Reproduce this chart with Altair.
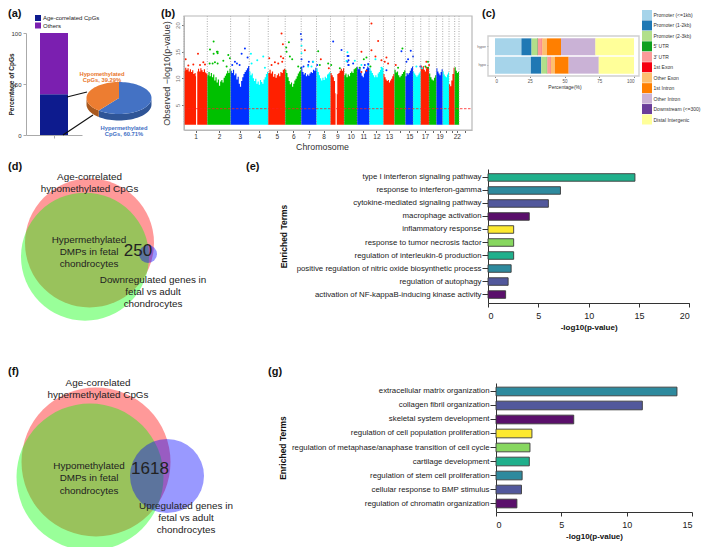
import math
import altair as alt

FONT = "Liberation Sans"
M = 8  # page margin: reference pixel -> chart pixel

# ---------- (a) stacked bar and pie ----------
a_cats = ["Age-correlated CpGs", "Others"]
a_vals = [40, 60]
a_cols = ["#0d1b8e", "#7b1fb0"]
pie_hypo, pie_hyper = 39.29, 60.71

# ---------- (b) Manhattan ----------
chr_edges = [0, 70, 140, 196, 253, 304, 352, 398, 440, 481, 520, 557, 599, 632, 665, 688, 711, 736, 758, 777, 796, 813, 826]
chr_labels = ["1", "2", "3", "4", "5", "6", "7", "8", "9", "10", "11", "12", "13", "", "15", "", "17", "", "19", "", "", "22"]
chr_tops = [
    [11.4, 12.0, 11.6, 11.9, 11.3, 11.7, 11.2, 11.5, 10.8, 11.0, 10.4, 11.3, 11.8, 11.3, 11.9, 11.5, 11.2, 11.7, 11.1, 10.9],
    [10.6, 11.2, 10.4, 11.0, 10.2, 10.7, 9.6, 10.2, 9.2, 9.8, 8.6, 9.4, 9.7, 9.2, 10.1, 10.5, 10.9, 11.4, 11.0, 11.8],
    [11.4, 11.0, 11.6, 10.6, 10.9, 9.8, 10.3, 9.0, 8.4, 9.5, 10.2, 10.8, 11.2, 11.5, 11.9, 12.3],
    [11.3, 10.6, 10.9, 10.0, 9.5, 9.9, 9.0, 9.4, 8.8, 9.7, 9.3, 9.0, 9.8, 10.2, 10.8, 11.2],
    [11.0, 11.6, 10.9, 11.3, 10.3, 10.8, 10.1, 10.6, 10.9, 10.4, 11.2, 11.0, 11.6, 11.8],
    [11.6, 11.0, 10.2, 9.5, 8.9, 9.2, 8.4, 9.0, 9.6, 9.9, 10.4, 10.9, 11.3, 11.5],
    [11.8, 11.2, 10.7, 11.0, 10.4, 10.7, 10.5, 10.9, 11.2, 11.0, 11.6, 11.4, 12.0],
    [11.9, 11.2, 10.6, 10.0, 9.6, 10.1, 9.7, 10.3, 10.0, 10.7, 10.9, 11.2],
    [11.0, 10.6, 10.2, 9.5, 7.2, 7.0, 10.8, 11.0, 11.4, 11.8, 11.4, 11.9],
    [10.6, 10.9, 10.2, 10.7, 10.4, 11.0, 11.3, 11.0, 11.7, 11.9, 12.1],
    [12.1, 11.7, 11.9, 11.0, 10.5, 10.2, 10.9, 11.4, 11.8, 12.2, 12.0],
    [11.9, 11.4, 11.0, 10.6, 10.2, 10.6, 10.2, 10.9, 11.2, 11.6, 11.9, 12.0],
    [10.8, 10.2, 9.8, 9.5, 9.7, 9.2, 9.6, 9.9, 10.4, 10.8],
    [11.6, 11.1, 11.3, 10.6, 10.2, 10.5, 10.8, 11.2, 11.5],
    [10.4, 11.0, 10.7, 11.0, 11.4, 11.9, 12.2],
    [11.3, 10.9, 10.6, 10.3, 10.6, 10.9, 11.2],
    [12.4, 12.0, 12.3, 11.6, 11.3, 11.8, 12.1, 12.0],
    [10.9, 10.2, 9.8, 9.6, 10.1, 10.6],
    [11.9, 11.3, 10.9, 10.6, 11.2, 11.7],
    [11.3, 10.7, 10.4, 10.2, 10.7, 11.1],
    [8.9, 8.5, 9.6, 10.8, 12.0],
    [12.1, 11.4, 11.0, 11.2],
]
chr_cols = ["#ff2000", "#00c000", "#0030ff", "#00ffff"]
gap_positions = [38, 457]
peak_pos = [5, 42, 13, 28, 48, 58, 63, 78, 89, 99, 101, 89, 101, 133, 138, 118, 86, 77, 101, 93, 128, 183, 173, 191, 159, 193, 153, 167, 145,
            201, 238, 220, 203, 243, 256, 293, 297, 291, 273, 283, 295, 263, 298, 315, 307, 308, 325, 318, 343, 351, 353, 351, 353, 387, 373, 375,
            400, 359, 353, 353, 353, 388, 373, 383, 363, 411, 435, 403, 433, 408, 442, 468, 448, 473, 494, 491, 494, 491, 508, 494, 494,
            491, 488, 513, 554, 533, 533, 548, 533, 540, 548, 560, 528, 543, 553, 540, 608, 575, 593, 563, 583,
            563, 575, 593, 608, 603, 613, 636, 656, 643, 653, 681, 688, 673, 668, 710, 698, 715, 728, 736, 728, 733, 725, 733, 718,
            740, 758, 763, 775, 773, 771, 776, 781, 786, 805, 805, 803, 816, 821, 819]
peak_val = [13.6, 14.6, 12.4, 12.6, 12.5, 13.0, 12.6, 15.4, 16.9, 15.0, 15.0, 14.6, 14.7, 14.4, 13.75, 13.3, 12.8, 12.8, 12.8, 13.0, 12.2, 15.6, 14.6, 13.9, 12.8, 6.6, 13.1, 12.5, 12.5,
            14.6, 14.1, 13.4, 12.8, 12.0, 13.75, 18.4, 16.4, 14.1, 13.0, 12.8, 13.1, 12.5, 13.75, 16.75, 15.8, 15.0, 13.6, 14.1, 12.2, 11.9, 17.3, 18.3, 13.6, 13.1, 12.5, 13.1,
            12.5, 12.2, 12.0, 16.1, 14.7, 13.1, 12.2, 12.2, 15.25, 13.6, 11.9, 15.1, 12.8, 12.5, 12.5, 11.9, 16.9, 15.3, 14.2, 14.2, 13.4, 13.1, 12.8, 12.5, 12.5,
            14.9, 13.25, 13.3, 12.5, 12.5, 15.0, 11.4, 11.2, 13.6, 13.9, 12.2, 12.0, 12.5, 12.7, 12.0, 11.5, 13.6, 12.0, 15.25, 17.0,
            20.3, 14.1, 13.4, 13.9, 13.1, 12.8, 12.5, 15.6, 12.0, 15.1, 15.2, 14.1, 13.6, 13.1, 12.2, 12.2, 11.9, 13.1, 12.5, 12.0, 13.1, 12.2, 12.0]
peak_chr = [0, 0, 0, 0, 0, 0, 0, 1, 1, 1, 1, 1, 1, 1, 1, 1, 1, 1, 1, 1, 1, 2, 2, 2, 2, 2, 2, 2, 2,
            3, 3, 3, 3, 3, 4, 4, 4, 4, 4, 4, 4, 4, 4, 5, 5, 5, 5, 5, 5, 5, 6, 6, 6, 6, 6, 6,
            6, 6, 6, 7, 7, 7, 7, 7, 8, 8, 8, 9, 9, 9, 9, 9, 10, 10, 10, 10, 10, 10, 10, 10, 10,
            11, 11, 11, 11, 11, 12, 12, 12, 13, 13, 13, 13, 14, 14, 14, 14, 15, 15, 16, 16,
            16, 16, 16, 16, 16, 16, 16, 17, 17, 18, 18, 18, 18, 18, 18, 19, 19, 20, 20, 20, 21, 21, 21]
threshold = 4.3
base_value = 1.3

# ---------- (c) annotation bars ----------
c_cats = ["Promoter (<=1kb)", "Promoter (1-2kb)", "Promoter (2-3kb)", "5' UTR", "3' UTR", "1st Exon", "Other Exon",
          "1st Intron", "Other Intron", "Downstream (<=300)", "Distal Intergenic"]
c_cols = ["#a6d4ea", "#1f78b4", "#b2df8a", "#10a020", "#fb9a99", "#f50010", "#fdbf6f", "#ff7f00", "#cab2d6", "#6a3d9a", "#ffff99"]
c_hyper = [19, 7.3, 4, 0.4, 3, 0.3, 3.3, 10.2, 24.6, 0.1, 27.8]
c_hypo = [25.8, 7.5, 4, 0.3, 2.4, 0.2, 2.8, 10, 21.5, 0.1, 25.4]

# ---------- (e) / (g) enrichment ----------
e_terms = ["type I interferon signaling pathway", "response to interferon-gamma", "cytokine-mediated signaling pathway",
           "macrophage activation", "inflammatory response", "response to tumor necrosis factor",
           "regulation of interleukin-6 production", "positive regulation of nitric oxide biosynthetic process",
           "regulation of autophagy", "activation of NF-kappaB-inducing kinase activity"]
e_vals = [14.6, 7.2, 6.0, 4.1, 2.55, 2.55, 2.55, 2.3, 2.0, 1.75]
e_cols = ["#20b08c", "#2e8a9e", "#52589c", "#5a0f6b", "#fde92f", "#87d75f", "#20b08c", "#2e8a9e", "#52589c", "#5a0f6b"]
g_terms = ["extracellular matrix organization", "collagen fibril organization", "skeletal system development",
           "regulation of cell population proliferation", "regulation of metaphase/anaphase transition of cell cycle",
           "cartilage development", "regulation of stem cell proliferation", "cellular response to BMP stimulus",
           "regulation of chromatin organization"]
g_vals = [13.85, 11.2, 5.95, 2.75, 2.6, 2.55, 2.0, 1.95, 1.6]
g_cols = ["#2e8a9e", "#52589c", "#5a0f6b", "#fde92f", "#87d75f", "#20b08c", "#2e8a9e", "#52589c", "#5a0f6b"]

# ---------- (d) / (f) Venn ----------
venn_cols = ["#ff0000", "#00ff00", "#0000ff"]
d_cx, d_cy, d_diam = [89.5, 85, 148], [243, 256.7, 254], [129, 128, 18]
f_cx, f_cy, f_diam = [96, 90, 167], [462, 477, 476], [149, 147, 74]

one = alt.Data(values=[{"k": 0}])


def note(text, x, y, size=9.5, color="#222222", bold=False, align="center", angle=0, line=None):
    kw = {}
    if bold:
        kw["fontWeight"] = "bold"
    if angle:
        kw["angle"] = angle
    return alt.Chart(one).mark_text(text=text, fontSize=size, color=color, align=align, baseline="middle",
                                    lineBreak="\n", lineHeight=line or size * 1.25, **kw).encode(
        x=alt.value(x - M), y=alt.value(y - M))


def seg(x, y, x2, y2, color="#111111", w=1.2):
    return alt.Chart(one).mark_rule(color=color, strokeWidth=w).encode(
        x=alt.value(x - M), y=alt.value(y - M), x2=alt.value(x2 - M), y2=alt.value(y2 - M))


def frame(x, y, x2, y2, color, w=1.2):
    return alt.Chart(one).mark_rect(fillOpacity=0, stroke=color, strokeWidth=w).encode(
        x=alt.value(x - M), y=alt.value(y - M), x2=alt.value(x2 - M), y2=alt.value(y2 - M))


def px(a, b):
    return [a - M, b - M]


layers = []

# ===== panel a =====
a_df = [{"x": " ", "cat": c, "v": v, "o": i} for i, (c, v) in enumerate(zip(a_cats, a_vals))]
layers.append(
    alt.Chart(alt.Data(values=a_df)).mark_bar().encode(
        x=alt.X("x:N", scale=alt.Scale(range=px(26, 82), paddingInner=0, paddingOuter=0.5),
                axis=alt.Axis(orient="bottom", offset=135 - M - 539, labels=False, title=None, domainColor="#aaaaaa",
                              tickColor="#aaaaaa", tickSize=3)),
        y=alt.Y("v:Q", stack="zero", scale=alt.Scale(domain=[0, 100], range=px(135, 33)),
                axis=alt.Axis(orient="left", offset=-(26 - M), values=[0, 50, 100], title="Percentage of CpGs",
                              titleFontSize=6.5, titleFontWeight="bold", titleColor="#222222", titleX=-11.5, titleY=76,
                              labelFontSize=6, labelColor="#333333", domainColor="#aaaaaa", tickColor="#aaaaaa",
                              tickSize=3, grid=False)),
        color=alt.Color("cat:N", scale=alt.Scale(domain=a_cats, range=a_cols),
                        legend=alt.Legend(orient="none", legendX=35 - M, legendY=15 - M, title=None, symbolType="square",
                                          symbolSize=36, symbolStrokeWidth=0, labelFontSize=6, labelColor="#222222", rowPadding=1.5, labelOffset=2)),
        order="o:Q",
    )
)

# pie outline shapes: flattened slices, angles taken from the two percentages
RX, RY, DEPTH = 32.5, 16, 6.5


def ell(deg, dy=0.0):
    t = math.radians(deg)
    return RX * math.sin(t), RY * -math.cos(t) + dy


def path(points):
    return "M" + "L".join(f"{x:.2f},{y:.2f}" for x, y in points) + "Z"


split = -360 * pie_hypo / 100
top_hypo = [(0, 0)] + [ell(split + (0 - split) * i / 40) for i in range(41)]
top_hyper = [(0, 0)] + [ell(0 + (360 + split) * i / 60) for i in range(61)]
low_a = [ell(split + (-90 - split) * i / 20) for i in range(21)]
side_hypo = low_a + [ell(-90, DEPTH)] + [ell(-90 + (split + 90) * i / 20, DEPTH) for i in range(21)]
arc_b = [ell(90 + (360 + split - 90) * i / 30) for i in range(31)]
side_hyper = arc_b + [ell(90 + (360 + split - 90) * i / 30, DEPTH) for i in range(30, -1, -1)]
for p, col in [(side_hyper, "#2f5597"), (side_hypo, "#a9591f"), (top_hyper, "#4472c4"), (top_hypo, "#ed7d31")]:
    layers.append(alt.Chart(one).mark_point(shape=path(p), filled=True, opacity=1, size=4, color=col, strokeWidth=0).encode(
        x=alt.value(119 - M), y=alt.value(98 - M)))
layers += [seg(67, 97, 87, 92), seg(63, 135, 93, 115)]
layers.append(note("Hypomethylated\nCpGs, 39.29%", 102, 73.5, size=5.8, color="#e9762b", bold=True, line=6.5))
layers.append(note("Hypermethylated\nCpGs, 60.71%", 124, 127.5, size=5.8, color="#3f6fc4", bold=True, line=6.5))

# ===== panel b =====
dom_x = [0, 865]
x_range = px(184, 472)
dom_y = [0.3, 21.7]
y_range = px(130, 16)
mx = alt.Scale(domain=dom_x, range=x_range)
my = alt.Scale(domain=dom_y, range=y_range)
sky = []
for i, tops in enumerate(chr_tops):
    s, e = chr_edges[i], chr_edges[i + 1]
    for j, t in enumerate(tops + [tops[-1]]):
        sky.append({"x": s + (e - s) * j / len(tops), "t": t, "b": base_value, "chr": i, "c": chr_cols[i % 4]})
layers.append(alt.Chart(alt.Data(values=sky)).mark_area(interpolate="step-after", opacity=1).encode(
    x=alt.X("x:Q", scale=mx, axis=None),
    y=alt.Y("t:Q", scale=my, axis=None),
    y2="b:Q",
    detail="chr:N",
    color=alt.Color("c:N", scale=None),
))
layers.append(alt.Chart(alt.Data(values=[{"x": g} for g in gap_positions])).mark_rule(color="white", strokeWidth=1.2).encode(
    x=alt.X("x:Q", scale=mx, axis=None), y=alt.value(y_range[1] + 10), y2=alt.value(125 - M)))
layers.append(alt.Chart(alt.Data(values=[{"x": p, "y": v, "c": chr_cols[c % 4]} for p, v, c in zip(peak_pos, peak_val, peak_chr)])).mark_circle(size=4, opacity=1).encode(
    x=alt.X("x:Q", scale=mx, axis=None),
    y=alt.Y("y:Q", scale=my, axis=None),
    color=alt.Color("c:N", scale=None),
))
layers.append(alt.Chart(alt.Data(values=[{"x": e} for e in chr_edges])).mark_rule(color="#8a8a8a", strokeDash=[1, 1.5], strokeWidth=0.7).encode(
    x=alt.X("x:Q", scale=mx, axis=None), y=alt.value(y_range[1]), y2=alt.value(125 - M)))
layers.append(alt.Chart(alt.Data(values=[{"y": threshold}])).mark_rule(color="#ff2020", strokeDash=[2.5, 1.5], strokeWidth=0.8).encode(
    y=alt.Y("y:Q", scale=my, axis=None), x=alt.value(x_range[0]), x2=alt.value(x_range[1] - 1)))
layers.append(frame(184, 16, 472, 130, "#b8b8b8", 1.2))
mids = [(chr_edges[i] + chr_edges[i + 1]) / 2 for i in range(22)] + [843]
mlabels = chr_labels + [""]
lab_expr = "[" + ",".join(f"'{l}'" for l in mlabels) + "][indexof([" + ",".join(str(m) for m in mids) + "],datum.value)]"
layers.append(alt.Chart(alt.Data(values=[{"x": m} for m in mids])).mark_point(opacity=0).encode(
    x=alt.X("x:Q", scale=mx, axis=alt.Axis(orient="bottom", offset=130 - M - 539, values=mids, labelExpr=lab_expr,
                                           labelOverlap=False, labelFontSize=6.5, labelColor="#333333", domainColor="#b8b8b8",
                                           tickColor="#666666", tickSize=2.5, labelPadding=1, grid=False,
                                           title="Chromosome", titleFontSize=8.8, titleFontWeight="normal", titleColor="#333333", titlePadding=2,
                                           titleX=322 - M)),
    y=alt.Y("y:Q", scale=my, axis=alt.Axis(orient="left", offset=-(184 - M), values=[5, 10, 15, 20], labelAngle=270, labelAlign="center",
                                           labelBaseline="bottom", labelFontSize=6, labelColor="#777777", domainColor="#b8b8b8",
                                           tickColor="#777777", tickSize=2.5, labelPadding=1, grid=False,
                                           title="Observed −log10(p-value)", titleFontSize=9, titleFontWeight="normal",
                                           titleColor="#333333", titlePadding=3)),
))

# ===== panel c =====
c_df = []
for row, vals in (("hyper", c_hyper), ("hypo", c_hypo)):
    for i, (cat, v) in enumerate(zip(c_cats, vals)):
        c_df.append({"row": row, "cat": cat, "v": v, "o": i})
layers.append(alt.Chart(alt.Data(values=c_df)).mark_bar().encode(
    x=alt.X("v:Q", stack="zero", scale=alt.Scale(domain=[0, 100], range=px(495, 634)),
            axis=alt.Axis(orient="bottom", offset=76 - M - 539, values=[0, 25, 50, 75, 100], labelFontSize=4.5, labelColor="#555555",
                          domain=False, tickColor="#888888", tickSize=1.5, labelPadding=1, grid=False,
                          title="Percentage(%)", titleFontSize=5, titleFontWeight="normal", titleColor="#333333", titlePadding=1)),
    y=alt.Y("row:N", sort=None, scale=alt.Scale(range=px(38, 74), paddingInner=0.08, paddingOuter=0.02),
            axis=alt.Axis(orient="left", offset=-(488 - M), labelFontSize=3.5, labelColor="#666666", domain=False, tickColor="#888888",
                          tickSize=1.5, labelPadding=1, title=None, grid=False)),
    color=alt.Color("cat:N", scale=alt.Scale(domain=c_cats, range=c_cols),
                    legend=alt.Legend(orient="none", legendX=642 - M, legendY=10 - M, title=None, symbolType="square", symbolSize=100,
                                      symbolStrokeWidth=0, symbolOpacity=1, labelFontSize=5, labelColor="#333333", rowPadding=0.45,
                                      labelOffset=1.5, labelLimit=80)),
    order="o:Q",
))
layers.append(frame(488, 36, 639, 76, "#d0d0d0", 1.4))


# ===== panels e and g =====
def enrich(terms, vals, cols, xmax, xticks, x0, x1, y0, y1, pin, pout, title_pad_y):
    df = [{"t": t, "v": v, "c": c} for t, v, c in zip(terms, vals, cols)]
    return alt.Chart(alt.Data(values=df)).mark_bar(stroke="#3a3a3a", strokeWidth=0.9).encode(
        x=alt.X("v:Q", scale=alt.Scale(domain=[0, xmax], range=px(x0, x1)),
                axis=alt.Axis(orient="bottom", offset=y1 - M - 539, values=xticks, format="d", labelFontSize=9, labelColor="#222222", labelPadding=4,
                              domainColor="#333333", tickColor="#333333", tickSize=4, grid=False, title="-log10(p-value)",
                              titleFontSize=8, titleFontWeight="bold", titleColor="#111111", titlePadding=3)),
        y=alt.Y("t:N", sort=None, scale=alt.Scale(range=px(y0, y1), paddingInner=pin, paddingOuter=pout),
                axis=alt.Axis(orient="left", offset=-(x0 - M), labelFontSize=7.85, labelColor="#222222", labelPadding=1, labelLimit=260,
                              domainColor="#333333", tickColor="#333333", tickSize=6, grid=False, title="Enriched Terms",
                              titleFontSize=8.5, titleFontWeight="bold", titleColor="#111111", titlePadding=title_pad_y)),
        color=alt.Color("c:N", scale=None),
    )


layers.append(enrich(e_terms, e_vals, e_cols, 20, [0, 5, 10, 15, 20], 488, 689.3, 169, 303, 0.42, 0.36, 8))
layers.append(enrich(g_terms, g_vals, g_cols, 15, [0, 5, 10, 15], 496, 692, 383, 512, 0.38, 0.295, 9))


# ===== panels d and f =====
def venn(cx, cy, diam):
    out = []
    for x, y, d, c in zip(cx, cy, diam, venn_cols):
        # Vega's circle symbol has a diameter of sqrt(size)
        out.append(alt.Chart(alt.Data(values=[{"x": x - M, "y": y - M, "s": d * d}])).mark_circle(opacity=0.4, color=c).encode(
            x=alt.X("x:Q", scale=None, axis=None), y=alt.Y("y:Q", scale=None, axis=None), size=alt.Size("s:Q", scale=None)))
    return out


layers += venn(d_cx, d_cy, d_diam)
layers += venn(f_cx, f_cy, f_diam)
T = 9.9
layers += [
    note("Age-correlated\nhypomethylated CpGs", 89.5, 177, size=T, line=12),
    note("Hypermethylated\nDMPs in fetal\nchondrocytes", 89, 240, size=T, line=12),
    note("250", 138, 251, size=17),
    note("Downregulated genes in\nfetal vs adult\nchondrocytes", 153, 280, size=T, line=12),
    note("Age-correlated\nhypermethylated CpGs", 98, 383, size=T, line=12),
    note("Hypomethylated\nDMPs in fetal\nchondrocytes", 89, 465.5, size=T, line=12.5),
    note("1618", 150, 469, size=17),
    note("Upregulated genes in\nfetal vs adult\nchondrocytes", 186, 506, size=T, line=12),
]

# panel letters
for s, x, y in [("(a)", 8, 14), ("(b)", 161, 14), ("(c)", 482, 14), ("(d)", 8, 167), ("(e)", 246, 167), ("(f)", 8, 372), ("(g)", 268, 372)]:
    layers.append(note(s, x, y, size=11, color="#111111", bold=True, align="left"))

chart = alt.layer(*layers).resolve_scale(x="independent", y="independent", color="independent").properties(
    width=709 - 2 * M, height=555 - 2 * M, autosize=alt.AutoSizeParams(type="none"), padding=0
).configure(font=FONT).configure_view(stroke=None)

chart.save("out.html", embed_options={"renderer": "svg", "actions": False})
